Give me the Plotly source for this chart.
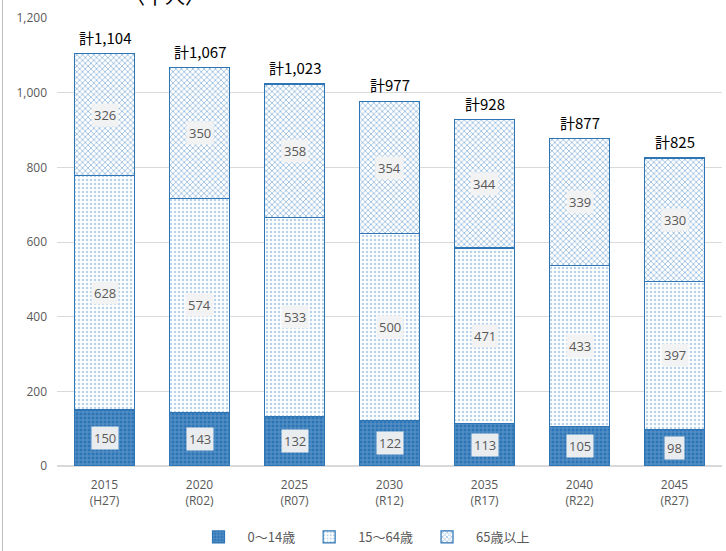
import plotly.graph_objects as go

# 年次と区分ごとの人口（千人）
years = ["2015<br>(H27)", "2020<br>(R02)", "2025<br>(R07)", "2030<br>(R12)",
         "2035<br>(R17)", "2040<br>(R22)", "2045<br>(R27)"]
age_0_14 = [150, 143, 132, 122, 113, 105, 98]
age_15_64 = [628, 574, 533, 500, 471, 433, 397]
age_65_over = [326, 350, 358, 354, 344, 339, 330]
totals = [1104, 1067, 1023, 977, 928, 877, 825]
series_names = ["0～14歳", "15～64歳", "65歳以上"]
y_ticks = [0, 200, 400, 600, 800, 1000, 1200]

FONT = "Noto Sans CJK JP, Noto Sans, sans-serif"
NUM_FONT = "Open Sans, Noto Sans, sans-serif"
GRAY = "#595959"
EDGE = "#2e75b6"

patterns = [
    dict(shape="+", fgcolor="#9dc3e6", bgcolor="#2e75b6", size=4, solidity=0.35),
    dict(shape=".", fgcolor="#6fa3d8", bgcolor="#ffffff", size=4, solidity=0.3),
    dict(shape="x", fgcolor="#3a7fc0", bgcolor="#ffffff", size=4, solidity=0.4),
]

fig = go.Figure()
for name, vals, pat in zip(series_names, [age_0_14, age_15_64, age_65_over], patterns):
    fig.add_trace(go.Bar(
        x=years, y=vals, name=name,
        marker=dict(pattern=pat, color=pat["bgcolor"],
                    line=dict(color=EDGE, width=1.2)),
        hoverinfo="x+y+name",
    ))

# segment value labels with light boxes
annotations = []
for i, x in enumerate(years):
    base = 0
    for vals in (age_0_14, age_15_64, age_65_over):
        v = vals[i]
        annotations.append(dict(
            x=x, y=base + v / 2, xref="x", yref="y", text=str(v),
            showarrow=False, font=dict(family=NUM_FONT, size=13, color=GRAY),
            bgcolor="rgba(242,242,242,0.95)", borderpad=2,
        ))
        base += v
    annotations.append(dict(
        x=x, y=totals[i], xref="x", yref="y", text=f"計{totals[i]:,}",
        showarrow=False, yanchor="bottom", yshift=4,
        font=dict(family=FONT, size=15, color="#000000"),
    ))

# unit heading at the top edge
annotations.append(dict(
    x=(165 - 57) / 665, y=1.0, xref="paper", yref="paper", text="〈千人〉",
    showarrow=False, xanchor="center", yanchor="bottom", yshift=6,
    font=dict(family=FONT, size=20, color="#000000"),
))

fig.update_layout(
    width=726, height=551,
    margin=dict(l=57, r=4, t=18, b=85, autoexpand=False),
    paper_bgcolor="#ffffff", plot_bgcolor="#ffffff",
    barmode="stack", bargap=0.37,
    font=dict(family=FONT, size=12, color=GRAY),
    xaxis=dict(showgrid=False, showline=False, ticks="", ticklabelstandoff=10,
               tickfont=dict(family=NUM_FONT, size=12, color=GRAY)),
    yaxis=dict(range=[0, 1200], tickvals=y_ticks, tickformat=",",
               showgrid=True, gridcolor="#d9d9d9", gridwidth=1,
               zeroline=True, zerolinecolor="#d9d9d9", showline=False,
               ticks="", ticklabelstandoff=9,
               tickfont=dict(family=NUM_FONT, size=12, color=GRAY)),
    legend=dict(orientation="h", x=(362 - 57) / 665, xanchor="center",
                yref="container", y=1 - 537 / 551, yanchor="middle",
                font=dict(size=13, color=GRAY), itemwidth=48,
                traceorder="normal"),
    annotations=annotations,
    shapes=[dict(type="line", xref="paper", yref="paper",
                 x0=-0.082, x1=-0.082, y0=-0.2, y1=1.1,
                 line=dict(color="#bfbfbf", width=1))],
)

fig.write_html("out.html")
